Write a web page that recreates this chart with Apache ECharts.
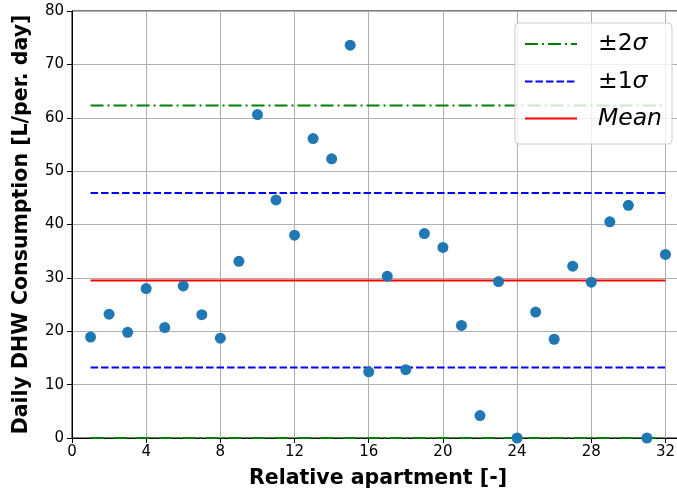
<!DOCTYPE html>
<html>
<head>
<meta charset="utf-8">
<script src="https://cdn.jsdelivr.net/npm/echarts@6/dist/echarts.min.js"></script>
<style>html,body{margin:0;padding:0;background:#fff}#c{width:677px;height:492px}</style>
</head>
<body>
<div id="c"></div>
<script>
const apartments = [1,2,3,4,5,6,7,8,9,10,11,12,13,14,15,16,17,18,19,20,21,22,23,24,25,26,27,28,29,30,31,32];
const consumption = [18.9,23.2,19.8,28.0,20.7,28.5,23.1,18.7,33.1,60.6,44.6,38.0,56.1,52.3,73.6,12.4,30.3,12.8,38.3,35.7,21.1,4.2,29.3,0.0,23.6,18.5,32.2,29.2,40.5,43.6,0.0,34.4];
const meanValue = 29.5;
const plus1Sigma = 45.9;
const minus1Sigma = 13.2;
const plus2Sigma = 62.3;
const minus2Sigma = 0.0;
const lineStart = 1, lineEnd = 32;
const xTicks = [0,4,8,12,16,20,24,28,32];

const font = 'DejaVu Sans';
const chart = echarts.init(document.getElementById('c'), null, {renderer:'canvas'});

function hline(name, v, color, type) {
  return {
    name: name, type: 'line', data: [[lineStart, v],[lineEnd, v]],
    symbol: 'none', lineStyle: {color: color, width: 2, type: type},
    itemStyle: {color: color}, z: 3, silent: true, animation: false
  };
}
const dashDot = [13, 4, 2, 4];
const dashed = [7.5, 3];

chart.setOption({
  animation: false,
  grid: {left: 72, width: 612, top: 11, bottom: 54, show: true, borderColor: '#000', borderWidth: 1,
         containLabel: false, outerBoundsMode: 'none'},
  xAxis: {
    type: 'value', min: 0, max: 33, interval: 4,
    name: 'Relative apartment [-]', nameLocation: 'middle', nameGap: 30,
    nameTextStyle: {fontFamily: font, fontWeight: 'bold', fontSize: 20.5, color: '#000'},
    axisLine: {show: true, onZero: false, lineStyle: {color: '#000', width: 1}},
    axisTick: {show: true, inside: false, length: 5, lineStyle: {color: '#000'}},
    axisLabel: {fontFamily: font, fontSize: 15, color: '#000', margin: 7,
      formatter: v => xTicks.includes(v) ? String(v) : ''},
    splitLine: {show: true, lineStyle: {color: '#b0b0b0', width: 1}}
  },
  yAxis: {
    type: 'value', min: 0, max: 80, interval: 10,
    name: 'Daily DHW Consumption [L/per. day]', nameLocation: 'middle', nameGap: 40,
    nameTextStyle: {fontFamily: font, fontWeight: 'bold', fontSize: 20.5, color: '#000'},
    axisLine: {show: true, onZero: false, lineStyle: {color: '#000', width: 1}},
    axisTick: {show: true, inside: false, length: 5, lineStyle: {color: '#000'}},
    axisLabel: {fontFamily: font, fontSize: 15, color: '#000', margin: 8},
    splitLine: {show: true, lineStyle: {color: '#b0b0b0', width: 1}}
  },
  legend: {
    data: ['±2σ','±1σ','Mean'],
    orient: 'vertical', right: 5, top: 23,
    padding: [9, 10, 14, 9],
    itemWidth: 52, itemHeight: 22, itemGap: 13.5,
    itemStyle: {opacity: 0},
    backgroundColor: 'rgba(255,255,255,0.8)', borderColor: '#cccccc', borderWidth: 1, borderRadius: 4,
    textStyle: {fontFamily: font, fontSize: 23.5, color: '#000',
      rich: {n: {fontFamily: font, fontSize: 23.5, color: '#000', padding: [0,0,0,16]},
             i: {fontFamily: font, fontSize: 23.5, fontStyle: 'italic', color: '#000'},
             m: {fontFamily: font, fontSize: 23.5, fontStyle: 'italic', color: '#000', padding: [0,0,0,16]}}},
    formatter: function (name) {
      if (name === 'Mean') return '{m|Mean}';
      return '{n|' + name.slice(0, 2) + '}{i|σ}';
    }
  },
  series: [
    hline('±2σ', plus2Sigma, '#008000', dashDot),
    hline('±2σ', minus2Sigma, '#008000', dashDot),
    hline('±1σ', plus1Sigma, '#0000ff', dashed),
    hline('±1σ', minus1Sigma, '#0000ff', dashed),
    hline('Mean', meanValue, '#ff0000', 'solid'),
    {
      name: 'data', type: 'scatter', symbol: 'circle', symbolSize: 11,
      data: apartments.map((a, i) => [a, consumption[i]]),
      itemStyle: {color: '#1f77b4', opacity: 1}, z: 4, clip: true
    }
  ]
});
</script>
</body>
</html>
